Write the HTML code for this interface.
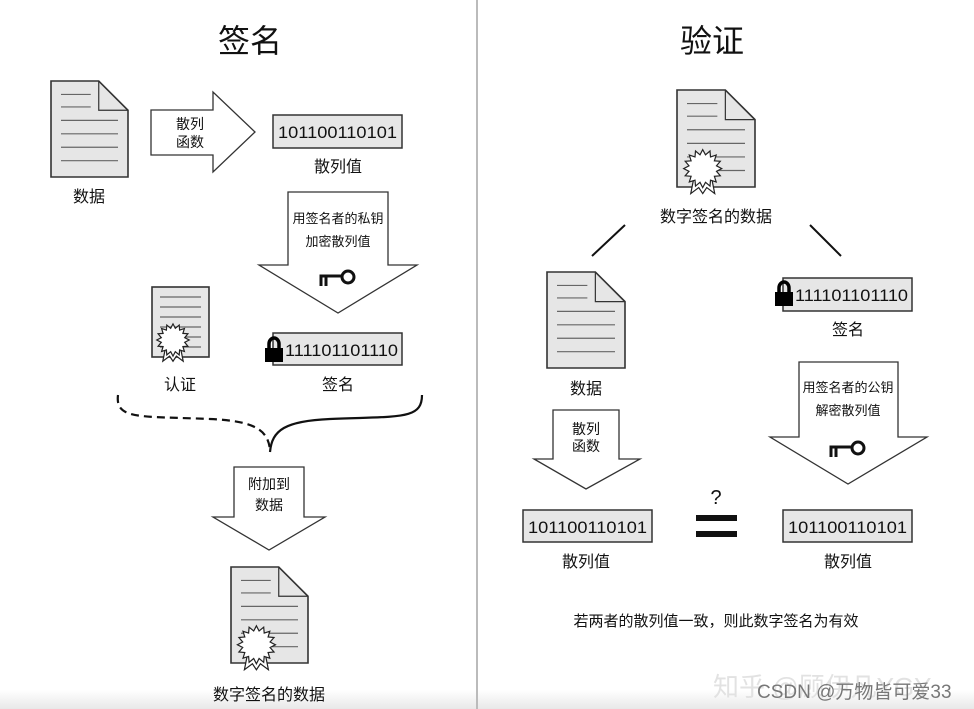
<!DOCTYPE html>
<html><head><meta charset="utf-8"><style>
html,body{margin:0;padding:0;background:#fff}
svg{display:block}
text{font-family:"Liberation Sans","Noto Sans CJK SC",sans-serif;fill:#111}
</style></head><body>
<svg id="s" width="974" height="709" viewBox="0 0 974 709" xmlns="http://www.w3.org/2000/svg">
<defs>
<linearGradient id="bg" x1="0" y1="0" x2="0" y2="1"><stop offset="0" stop-color="#fff"/><stop offset="1" stop-color="#e8e8e8"/></linearGradient>
</defs>
<rect x="0" y="0" width="974" height="709" fill="#fff"/>
<rect x="0" y="690" width="974" height="19" fill="url(#bg)"/>
<line x1="477" y1="0" x2="477" y2="709" stroke="#bbb" stroke-width="2"/>

<text x="250" y="52" font-size="32" text-anchor="middle">签名</text>
<text x="712" y="52" font-size="32" text-anchor="middle">验证</text>

<polygon points="151,110 213,110 213,92 255,132 213,172 213,155 151,155" fill="#fff" stroke="#333" stroke-width="1.3"/>
<text x="190" y="129" font-size="14" text-anchor="middle">散列</text>
<text x="190" y="147" font-size="14" text-anchor="middle">函数</text>

<rect x="273" y="115" width="129" height="33" fill="#e6e6e6" stroke="#333" stroke-width="1.5"/>
<text x="278" y="138" font-size="17" textLength="119" lengthAdjust="spacingAndGlyphs">101100110101</text>
<text x="338" y="172" font-size="16" text-anchor="middle">散列值</text>
<text x="89" y="202" font-size="16" text-anchor="middle">数据</text>

<polygon points="288,192 388,192 388,265 417,265 338,313 259,265 288,265" fill="#fff" stroke="#333" stroke-width="1.3"/>
<text x="338" y="223" font-size="13" text-anchor="middle">用签名者的私钥</text>
<text x="338" y="246" font-size="13" text-anchor="middle">加密散列值</text>

<rect x="273" y="333" width="129" height="32" fill="#e6e6e6" stroke="#333" stroke-width="1.5"/>
<text x="285" y="356" font-size="17" textLength="113" lengthAdjust="spacingAndGlyphs">111101101110</text>
<text x="180" y="390" font-size="16" text-anchor="middle">认证</text>
<text x="338" y="390" font-size="16" text-anchor="middle">签名</text>

<path d="M118,395 C115,420 140,416 210,419 C255,421 268,430 270,450" fill="none" stroke="#111" stroke-width="2.2" stroke-dasharray="8,5"/>
<path d="M270,452 C272,430 285,421 330,419 C400,416 422,420 422,395" fill="none" stroke="#111" stroke-width="2.2"/>

<polygon points="234,467 304,467 304,517 325,517 269,550 213,517 234,517" fill="#fff" stroke="#333" stroke-width="1.3"/>
<text x="269" y="489" font-size="14" text-anchor="middle">附加到</text>
<text x="269" y="510" font-size="14" text-anchor="middle">数据</text>
<text x="269" y="700" font-size="16" text-anchor="middle">数字签名的数据</text>

<text x="716" y="222" font-size="16" text-anchor="middle">数字签名的数据</text>
<line x1="592" y1="256" x2="625" y2="225" stroke="#111" stroke-width="2"/>
<line x1="810" y1="225" x2="841" y2="256" stroke="#111" stroke-width="2"/>
<text x="586" y="394" font-size="16" text-anchor="middle">数据</text>
<rect x="783" y="278" width="129" height="33" fill="#e6e6e6" stroke="#333" stroke-width="1.5"/>
<text x="795" y="301" font-size="17" textLength="113" lengthAdjust="spacingAndGlyphs">111101101110</text>
<text x="848" y="335" font-size="16" text-anchor="middle">签名</text>

<polygon points="799,362 898,362 898,437 927,437 848,484 770,437 799,437" fill="#fff" stroke="#333" stroke-width="1.3"/>
<text x="848" y="392" font-size="13" text-anchor="middle">用签名者的公钥</text>
<text x="848" y="415" font-size="13" text-anchor="middle">解密散列值</text>

<polygon points="553,410 619,410 619,459 640,459 586,489 534,459 553,459" fill="#fff" stroke="#333" stroke-width="1.3"/>
<text x="586" y="434" font-size="14" text-anchor="middle">散列</text>
<text x="586" y="451" font-size="14" text-anchor="middle">函数</text>

<rect x="523" y="510" width="129" height="32" fill="#e6e6e6" stroke="#333" stroke-width="1.5"/>
<text x="528" y="533" font-size="17" textLength="119" lengthAdjust="spacingAndGlyphs">101100110101</text>
<rect x="783" y="510" width="129" height="32" fill="#e6e6e6" stroke="#333" stroke-width="1.5"/>
<text x="788" y="533" font-size="17" textLength="119" lengthAdjust="spacingAndGlyphs">101100110101</text>
<text x="586" y="567" font-size="16" text-anchor="middle">散列值</text>
<text x="848" y="567" font-size="16" text-anchor="middle">散列值</text>
<text x="716" y="504" font-size="20" text-anchor="middle">?</text>
<rect x="696" y="515" width="41" height="6" fill="#111"/>
<rect x="696" y="531" width="41" height="6" fill="#111"/>
<text x="716" y="626" font-size="15" text-anchor="middle">若两者的散列值一致，则此数字签名为有效</text>

<text x="713" y="696" font-size="26" style="fill:#e2e2e2">知乎 @顾伊凡YGY</text>
<text x="757" y="698" font-size="19" style="fill:#777">CSDN @万物皆可爱33</text>
</svg>
<script>
var NS="http://www.w3.org/2000/svg",svg=document.getElementById('s');
function el(t,a){var e=document.createElementNS(NS,t);for(var k in a)e.setAttribute(k,a[k]);svg.appendChild(e);return e;}
function star(cx,cy,R,r,n){var p=[];for(var i=0;i<2*n;i++){var a=Math.PI*i/n,rr=i%2?r:R;p.push((cx+rr*Math.cos(a)).toFixed(1)+","+(cy+rr*Math.sin(a)).toFixed(1));}return p.join(" ");}
function seal(cx,cy,s){
 el('polygon',{points:(cx-8*s)+","+(cy+5*s)+" "+(cx-12*s)+","+(cy+25*s)+" "+(cx-4*s)+","+(cy+19*s)+" "+(cx)+","+(cy+25*s)+" "+(cx+4*s)+","+(cy+19*s)+" "+(cx+12*s)+","+(cy+25*s)+" "+(cx+8*s)+","+(cy+5*s),fill:"#fff",stroke:"#222","stroke-width":1.2});
 el('polygon',{points:star(cx,cy,19*s,14*s,16),fill:"#fff",stroke:"#222","stroke-width":1.2});
}
function doc(x,y,w,h,cert){
 var f=w*0.38;
 el('path',{d:"M"+x+","+y+" H"+(x+w-f)+" L"+(x+w)+","+(y+f)+" V"+(y+h)+" H"+x+" Z",fill:"#e6e6e6",stroke:"#333","stroke-width":1.6});
 el('path',{d:"M"+(x+w-f)+","+y+" V"+(y+f)+" H"+(x+w),fill:"none",stroke:"#333","stroke-width":1.2});
 var ys=[0.14,0.27,0.41,0.55,0.69,0.83];
 for(var i=0;i<6;i++){var yy=y+h*ys[i];var x2=i<2?x+w-f-8:x+w-10;el('line',{x1:x+10,y1:yy,x2:x2,y2:yy,stroke:"#666","stroke-width":1.2});}
 if(cert)seal(x+w*0.33,y+h*0.81,1);
}
doc(51,81,77,96,false);
doc(231,567,77,96,true);
doc(677,90,78,97,true);
doc(547,272,78,96,false);
el('rect',{x:152,y:287,width:57,height:70,fill:"#e6e6e6",stroke:"#333","stroke-width":1.6});
[297,307,317,327,337,347].forEach(function(yy){el('line',{x1:160,y1:yy,x2:201,y2:yy,stroke:"#666","stroke-width":1.2});});
seal(173,340,0.85);
function key(x,y){el('circle',{cx:x+27,cy:y,r:6,fill:"#fff",stroke:"#111","stroke-width":3});el('path',{d:"M"+x+","+(y+9)+" V"+(y-1)+" H"+(x+21)+" M"+(x+5)+","+(y-1)+" V"+(y+9),fill:"none",stroke:"#111","stroke-width":3});}
key(321,277);key(831,448);
function lock(x,y){el('path',{d:"M"+(x+4)+","+(y+11)+" V"+(y+7)+" A5,6 0 0 1 "+(x+14)+","+(y+7)+" V"+(y+11),fill:"none",stroke:"#000","stroke-width":3.5});el('rect',{x:x,y:y+11,width:18,height:14,fill:"#000"});}
lock(265,337);lock(775,281);
</script>
</body></html>
